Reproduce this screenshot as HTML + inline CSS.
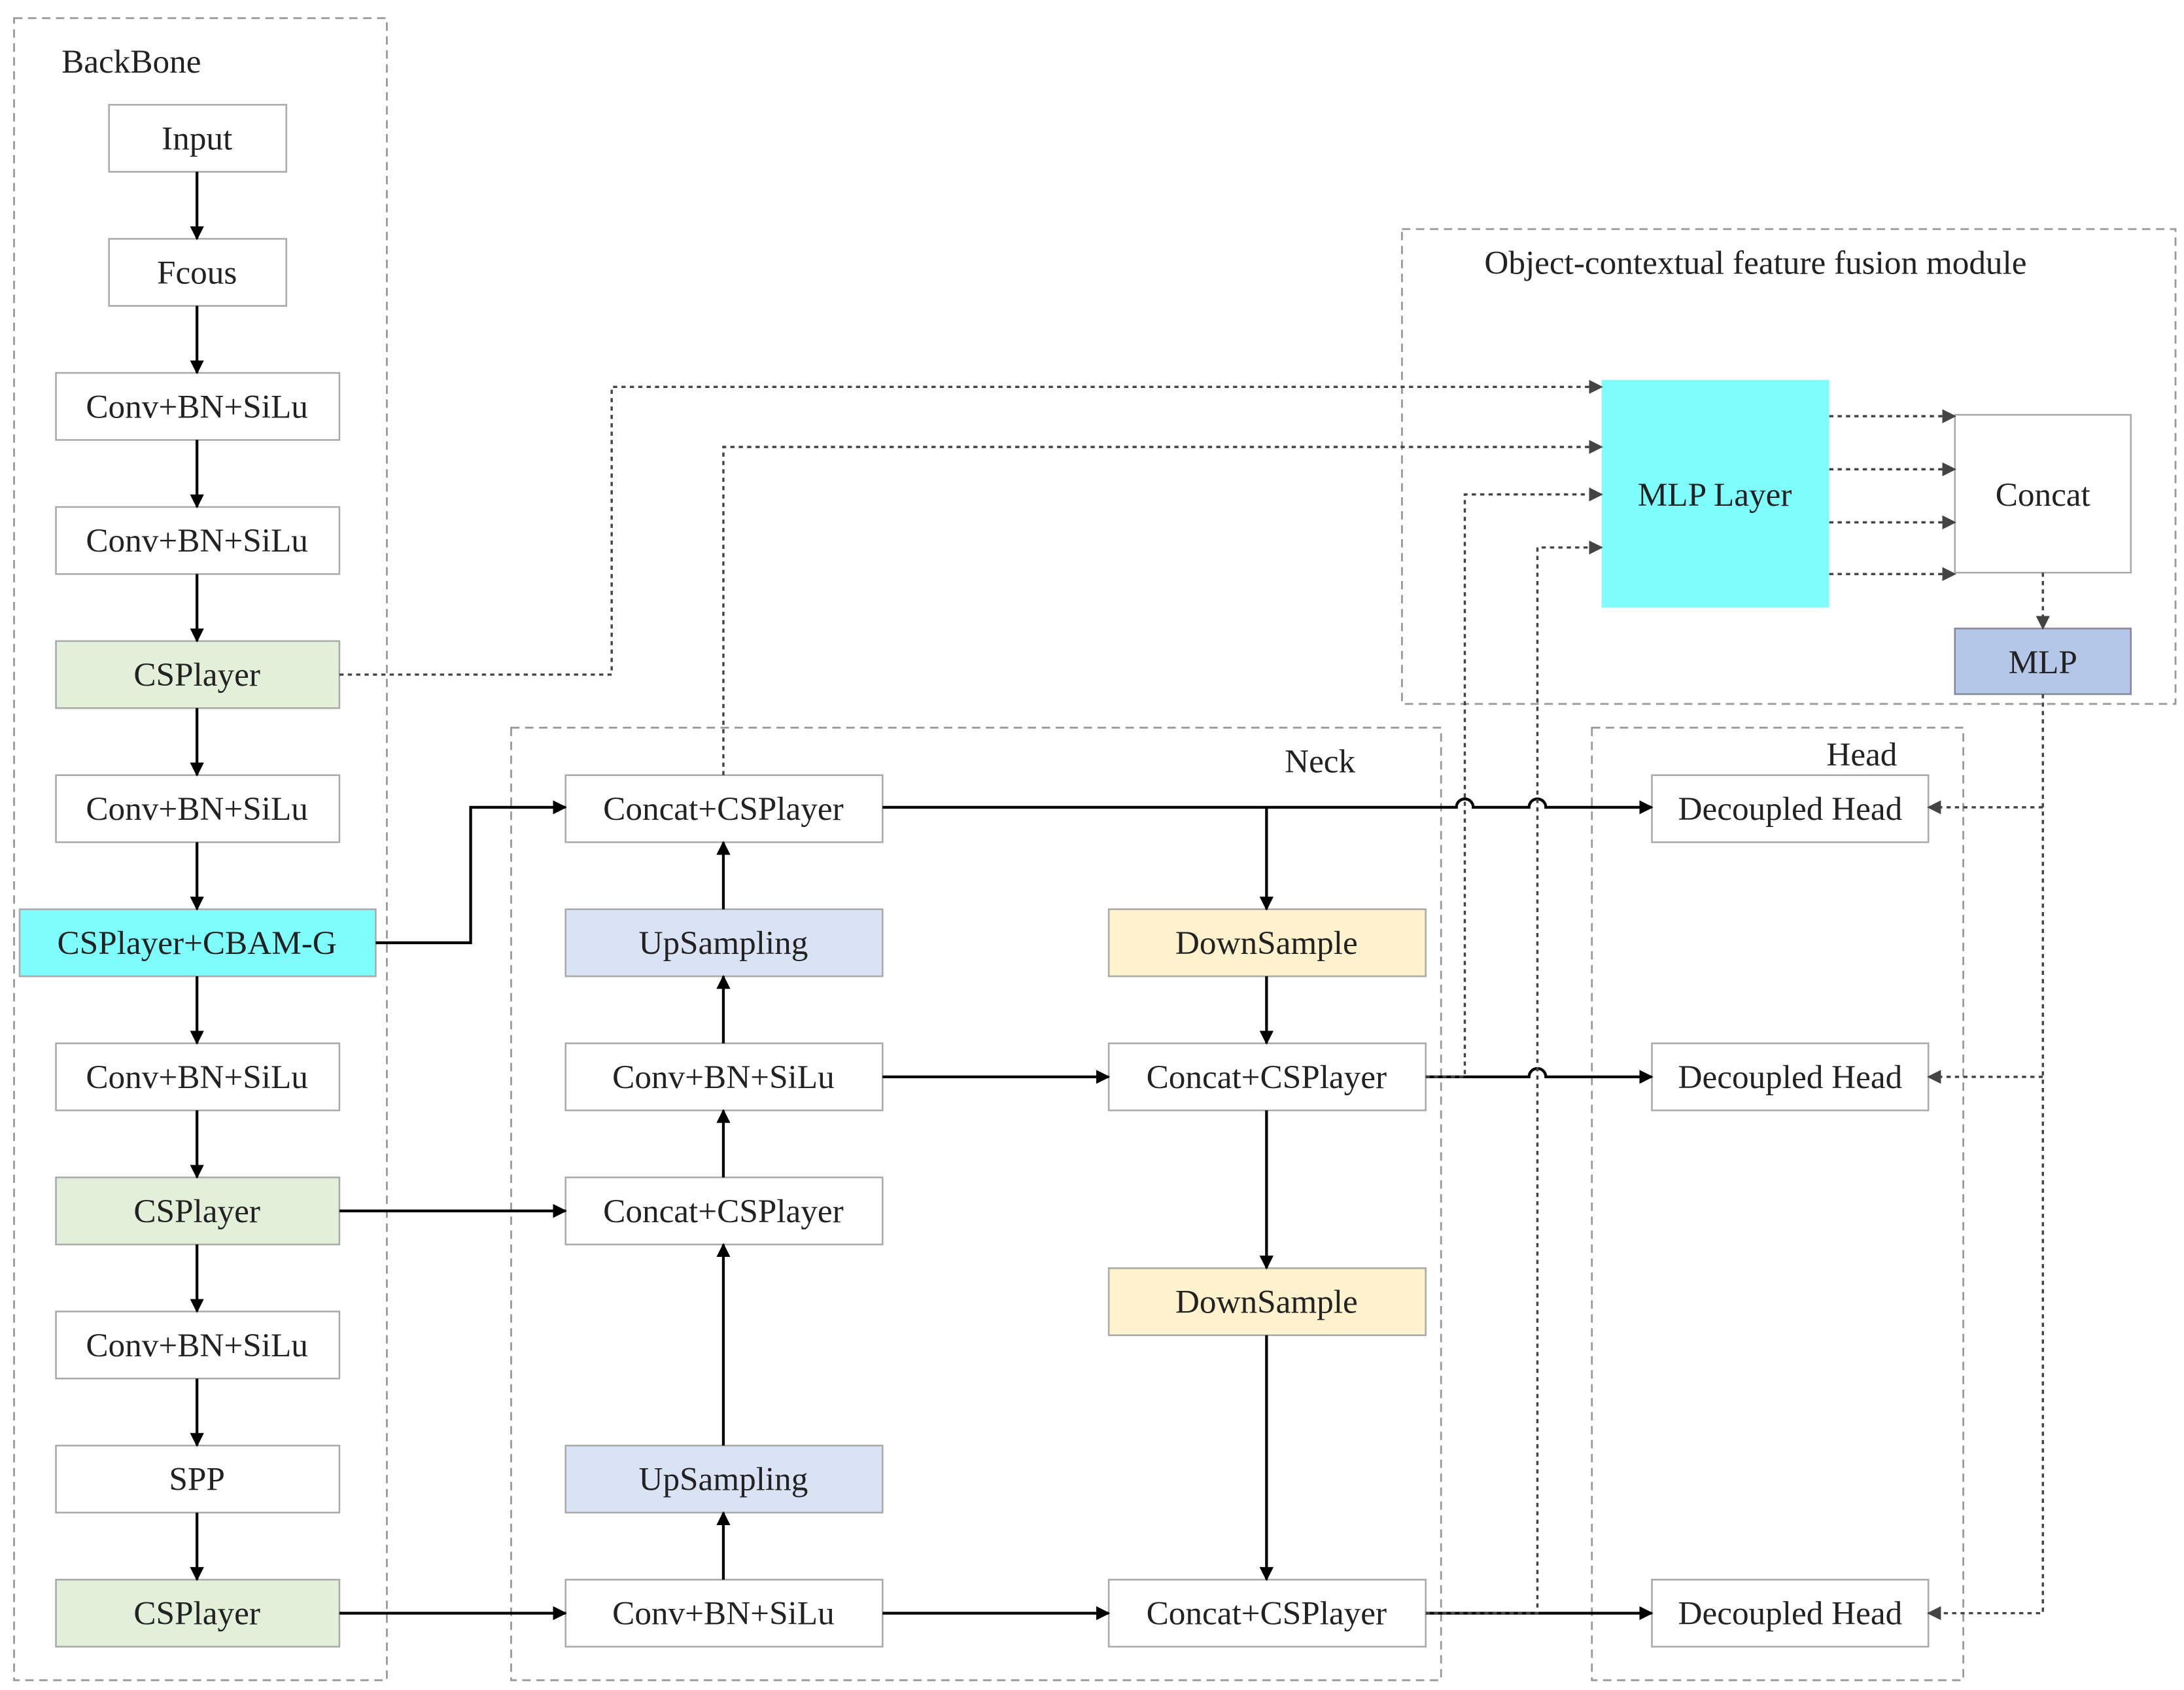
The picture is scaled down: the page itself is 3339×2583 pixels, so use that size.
<!DOCTYPE html>
<html><head><meta charset="utf-8"><style>html,body{margin:0;padding:0;background:#fff}svg{display:block}svg text{font-family:"Liberation Serif","DejaVu Serif",serif;font-size:24px}</style></head>
<body>
<svg width="3339" height="2583" viewBox="0 0 1564 1210" xmlns="http://www.w3.org/2000/svg">
<defs>
<marker id="a" markerWidth="10" markerHeight="10" refX="9" refY="5" orient="auto" markerUnits="userSpaceOnUse"><path d="M0,0 L10,5 L0,10 z" fill="#000"/></marker>
<marker id="g" markerWidth="10" markerHeight="10" refX="9" refY="5" orient="auto" markerUnits="userSpaceOnUse"><path d="M0,0 L10,5 L0,10 z" fill="#444"/></marker>
</defs>
<rect width="1564" height="1210" fill="#fff"/>
<g fill="none" stroke="#999" stroke-width="1.3" stroke-dasharray="6,4">
<rect x="10" y="13" width="267" height="1190"/>
<rect x="366" y="521" width="666" height="682"/>
<rect x="1140" y="521" width="266" height="682"/>
<rect x="1004" y="164" width="554" height="340"/>
</g>
<g fill="#222">
<text x="44" y="52">BackBone</text>
<text x="920" y="553">Neck</text>
<text x="1308" y="548">Head</text>
<text x="1063" y="196">Object-contextual feature fusion module</text>
</g>
<g stroke="#aaa" stroke-width="1.2">
<rect x="78" y="75" width="127" height="48" fill="#fff"/>
<rect x="78" y="171" width="127" height="48" fill="#fff"/>
<rect x="40" y="267" width="203" height="48" fill="#fff"/>
<rect x="40" y="363" width="203" height="48" fill="#fff"/>
<rect x="40" y="459" width="203" height="48" fill="#e2efd9"/>
<rect x="40" y="555" width="203" height="48" fill="#fff"/>
<rect x="14" y="651" width="255" height="48" fill="#7ffdfd"/>
<rect x="40" y="747" width="203" height="48" fill="#fff"/>
<rect x="40" y="843" width="203" height="48" fill="#e2efd9"/>
<rect x="40" y="939" width="203" height="48" fill="#fff"/>
<rect x="40" y="1035" width="203" height="48" fill="#fff"/>
<rect x="40" y="1131" width="203" height="48" fill="#e2efd9"/>
<rect x="405" y="555" width="227" height="48" fill="#fff"/>
<rect x="405" y="651" width="227" height="48" fill="#dae3f3"/>
<rect x="405" y="747" width="227" height="48" fill="#fff"/>
<rect x="405" y="843" width="227" height="48" fill="#fff"/>
<rect x="405" y="1035" width="227" height="48" fill="#dae3f3"/>
<rect x="405" y="1131" width="227" height="48" fill="#fff"/>
<rect x="794" y="651" width="227" height="48" fill="#fff2cc"/>
<rect x="794" y="747" width="227" height="48" fill="#fff"/>
<rect x="794" y="908" width="227" height="48" fill="#fff2cc"/>
<rect x="794" y="1131" width="227" height="48" fill="#fff"/>
<rect x="1183" y="555" width="198" height="48" fill="#fff"/>
<rect x="1183" y="747" width="198" height="48" fill="#fff"/>
<rect x="1183" y="1131" width="198" height="48" fill="#fff"/>
<rect x="1147" y="272" width="163" height="163" fill="#7ffdfd" stroke="none"/>
<rect x="1400" y="297" width="126" height="113" fill="#fff"/>
<rect x="1400" y="450" width="126" height="47" fill="#b4c7e7" stroke="#889"/>
</g>
<g fill="#222" text-anchor="middle">
<text x="141" y="107">Input</text>
<text x="141" y="203">Fcous</text>
<text x="141" y="299">Conv+BN+SiLu</text>
<text x="141" y="395">Conv+BN+SiLu</text>
<text x="141" y="491">CSPlayer</text>
<text x="141" y="587">Conv+BN+SiLu</text>
<text x="141" y="683">CSPlayer+CBAM-G</text>
<text x="141" y="779">Conv+BN+SiLu</text>
<text x="141" y="875">CSPlayer</text>
<text x="141" y="971">Conv+BN+SiLu</text>
<text x="141" y="1067">SPP</text>
<text x="141" y="1163">CSPlayer</text>
<text x="518" y="587">Concat+CSPlayer</text>
<text x="518" y="683">UpSampling</text>
<text x="518" y="779">Conv+BN+SiLu</text>
<text x="518" y="875">Concat+CSPlayer</text>
<text x="518" y="1067">UpSampling</text>
<text x="518" y="1163">Conv+BN+SiLu</text>
<text x="907" y="683">DownSample</text>
<text x="907" y="779">Concat+CSPlayer</text>
<text x="907" y="940">DownSample</text>
<text x="907" y="1163">Concat+CSPlayer</text>
<text x="1282" y="587">Decoupled Head</text>
<text x="1282" y="779">Decoupled Head</text>
<text x="1282" y="1163">Decoupled Head</text>
<text x="1228" y="362">MLP Layer</text>
<text x="1463" y="362">Concat</text>
<text x="1463" y="482">MLP</text>
</g>
<g stroke="#000" stroke-width="2" fill="none" marker-end="url(#a)">
<path d="M141,123V171"/><path d="M141,219V267"/><path d="M141,315V363"/><path d="M141,411V459"/><path d="M141,507V555"/><path d="M141,603V651"/><path d="M141,699V747"/><path d="M141,795V843"/><path d="M141,891V939"/><path d="M141,987V1035"/><path d="M141,1083V1131"/>
<path d="M269,675H337V578H405"/>
<path d="M243,867H405"/>
<path d="M243,1155H405"/>
<path d="M518,1131V1083"/><path d="M518,1035V891"/><path d="M518,843V795"/><path d="M518,747V699"/><path d="M518,651V603"/>
<path d="M632,771H794"/><path d="M632,1155H794"/>
<path d="M907,578V651"/><path d="M907,699V747"/><path d="M907,795V908"/><path d="M907,956V1131"/>
<path d="M632,578H1043a6,6 0 0 1 12,0H1095a6,6 0 0 1 12,0H1183"/>
<path d="M1021,771H1095a6,6 0 0 1 12,0H1183"/>
<path d="M1021,1155H1183"/>
</g>
<g stroke="#444" stroke-width="1.6" fill="none" stroke-dasharray="3,3" marker-end="url(#g)">
<path d="M243,483H438V277H1147"/>
<path d="M518,555V320H1147"/>
<path d="M1021,771H1049V354H1147"/>
<path d="M1021,1155H1101V392H1147"/>
<path d="M1310,298H1400"/><path d="M1310,336H1400"/><path d="M1310,374H1400"/><path d="M1310,411H1400"/>
<path d="M1463,410V450"/>
<path d="M1463,578H1381"/><path d="M1463,771H1381"/><path d="M1463,497V1155H1381"/>
</g>
</svg>
</body></html>
